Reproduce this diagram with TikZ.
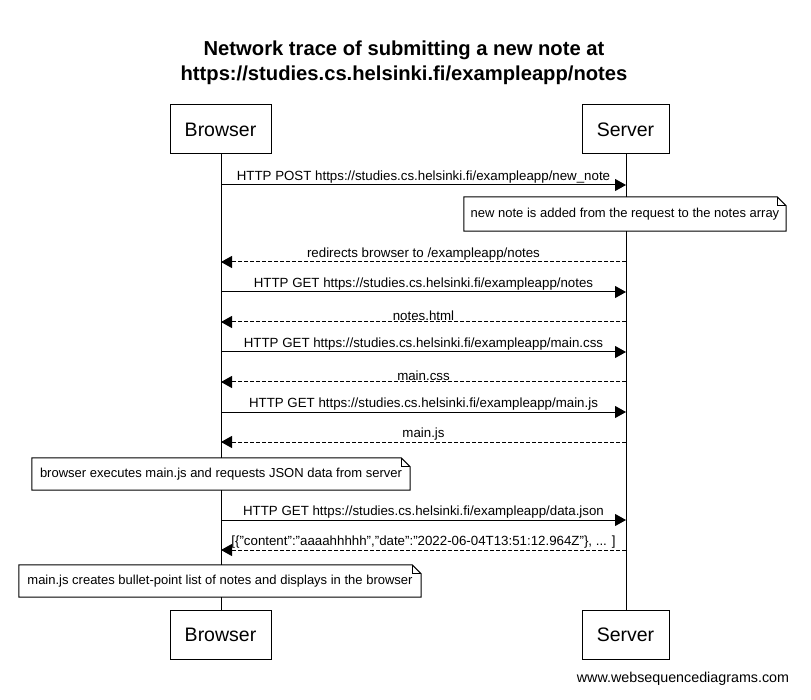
\documentclass[tikz,border=0pt]{standalone}
\usepackage{fontspec}
\setmainfont{Liberation Sans}
\usetikzlibrary{arrows.meta}
\begin{document}
\begin{tikzpicture}[x=1pt,y=-1pt,
  actor/.style={draw,line width=1pt,fill=white,minimum height=49pt,inner sep=0pt,font=\fontsize{19.5}{22}\selectfont},
  lifeline/.style={line width=1pt},
  msg/.style={line width=1pt,-{Triangle[length=11pt,width=12pt]}},
  reply/.style={msg,dash pattern=on 4pt off 2pt},
  lbl/.style={above,inner sep=1pt,font=\fontsize{13.3}{15}\selectfont},
  notebox/.style={fill=white,inner sep=0pt,font=\fontsize{13}{15}\selectfont},
  noteline/.style={line width=1pt}
]
\useasboundingbox[fill=white] (0,0) rectangle (811,700);
% title
\node[font=\bfseries\fontsize{20.2}{25}\selectfont,align=center] (title) at (404,63) {Network trace of submitting a new note at\\https://studies.cs.helsinki.fi/exampleapp/notes};
% lifelines
\coordinate (bt) at (221,154); \coordinate (bb) at (221,610);
\coordinate (st) at (626,154); \coordinate (sb) at (626,610);
\draw[lifeline] (bt) -- (bb);
\draw[lifeline] (st) -- (sb);
% actors
\node[actor,minimum width=101pt] (b1) at (220.5,129.5) {Browser};
\node[actor,minimum width=87pt] (s1) at (625.5,129.5) {Server};
\node[actor,minimum width=101pt] (b2) at (220.5,634.5) {Browser};
\node[actor,minimum width=87pt] (s2) at (625.5,634.5) {Server};
% messages
\foreach \n/\y in {1/185,3/262,4/292,5/322,6/352,7/382,8/412,9/442,11/520,12/550}{
  \coordinate (B\n) at (221,\y); \coordinate (S\n) at (626,\y);
}
\draw[msg] (B1) -- node[lbl] {HTTP POST https://studies.cs.helsinki.fi/exampleapp/new\_note} (S1);
\draw[reply] (S3) -- node[lbl] {redirects browser to /exampleapp/notes} (B3);
\draw[msg] (B4) -- node[lbl] {HTTP GET https://studies.cs.helsinki.fi/exampleapp/notes} (S4);
\draw[reply] (S5) -- node[lbl] {notes.html} (B5);
\draw[msg] (B6) -- node[lbl] {HTTP GET https://studies.cs.helsinki.fi/exampleapp/main.css} (S6);
\draw[reply] (S7) -- node[lbl] {main.css} (B7);
\draw[msg] (B8) -- node[lbl] {HTTP GET https://studies.cs.helsinki.fi/exampleapp/main.js} (S8);
\draw[reply] (S9) -- node[lbl] {main.js} (B9);
\draw[msg] (B11) -- node[lbl] {HTTP GET https://studies.cs.helsinki.fi/exampleapp/data.json} (S11);
\draw[reply] (S12) -- node[lbl] {[\{\symbol{34}content\symbol{34}:\symbol{34}aaaahhhhh\symbol{34},\symbol{34}date\symbol{34}:\symbol{34}2022-06-04T13:51:12.964Z\symbol{34}\}, ... ]} (B12);
% notes
\node[notebox,minimum width=322pt,minimum height=34pt] (n1) at (625,214) {new note is added from the request to the notes array};
\node[notebox,minimum width=378pt,minimum height=32pt] (n2) at (221,474) {browser executes main.js and requests JSON data from server};
\node[notebox,minimum width=402pt,minimum height=32pt] (n3) at (220,581) {main.js creates bullet-point list of notes and displays in the browser};
\foreach \n in {n1,n2,n3}{
  \draw[noteline] (\n.north west) -- ([xshift=-9pt]\n.north east) -- ([yshift=-9pt]\n.north east) -- (\n.south east) -- (\n.south west) -- cycle;
  \draw[noteline] ([xshift=-9pt]\n.north east) -- ([xshift=-9pt,yshift=-9pt]\n.north east) -- ([yshift=-9pt]\n.north east);
}
% watermark
\node[font=\fontsize{14.3}{16}\selectfont] (wm) at (683,679) {www.websequencediagrams.com};
\end{tikzpicture}
\end{document}
